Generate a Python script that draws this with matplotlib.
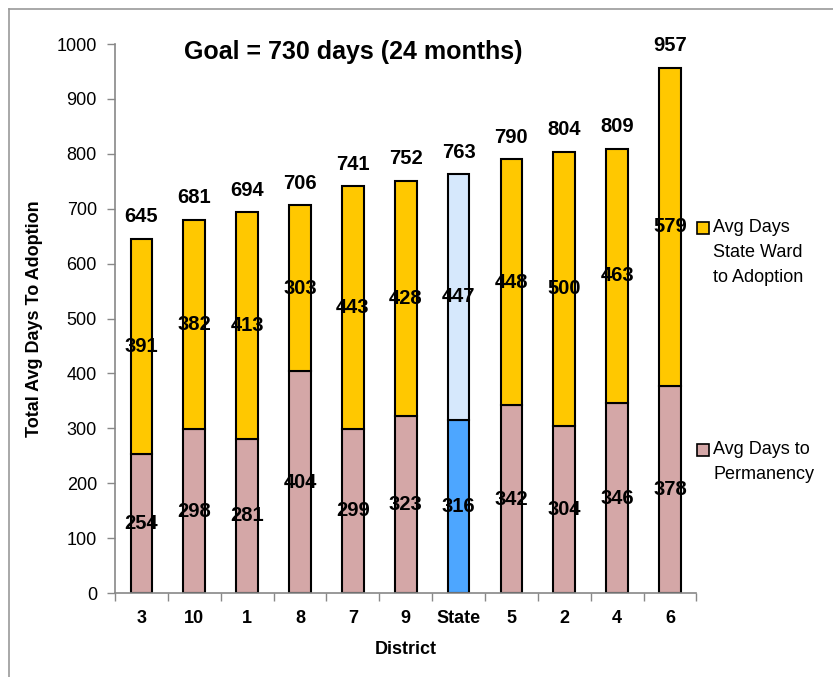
import matplotlib.pyplot as plt
from matplotlib.patches import Rectangle
from matplotlib.lines import Line2D

plt.rcParams['font.family'] = ['Liberation Sans', 'DejaVu Sans']

districts = ['3', '10', '1', '8', '7', '9', 'State', '5', '2', '4', '6']
permanency = [254, 298, 281, 404, 299, 323, 316, 342, 304, 346, 378]
ward_to_adoption = [391, 382, 413, 303, 443, 428, 447, 448, 500, 463, 579]
totals = [645, 681, 694, 706, 741, 752, 763, 790, 804, 809, 957]
legend_labels = ['Avg Days\nState Ward\nto Adoption', 'Avg Days to\nPermanency']

gold = '#FFC800'
rose = '#D4A7A7'
state_low = '#4DA6FF'
state_high = '#D6E8FC'

fig = plt.figure(figsize=(8.33, 6.77), dpi=100)
ax = fig.add_axes([0.138, 0.124, 0.698, 0.811])

x = list(range(len(districts)))
low_cols = [state_low if d == 'State' else rose for d in districts]
high_cols = [state_high if d == 'State' else gold for d in districts]

ax.bar(x, permanency, width=0.41, color=low_cols, edgecolor='black', linewidth=1.5)
ax.bar(x, ward_to_adoption, width=0.41, bottom=permanency, color=high_cols,
       edgecolor='black', linewidth=1.5)

for i in x:
    ax.text(i, permanency[i] / 2, str(permanency[i]), ha='center', va='center',
            fontsize=14.5, fontweight='bold')
    ax.text(i, permanency[i] + ward_to_adoption[i] / 2, str(ward_to_adoption[i]),
            ha='center', va='center', fontsize=14.5, fontweight='bold')
    ax.annotate(str(totals[i]), (i, totals[i]), xytext=(0, 9), textcoords='offset points',
                ha='center', va='bottom', fontsize=14.5, fontweight='bold')

ax.text(4.0, 985, 'Goal = 730 days (24 months)', ha='center', va='center',
        fontsize=18, fontweight='bold')

ax.set_xlim(-0.5, len(districts) - 0.5)
ax.set_ylim(0, 1000)
ax.set_yticks(range(0, 1001, 100))
ax.set_xticks(x)
ax.set_xticklabels(districts, fontweight='bold', fontsize=13)
ax.set_xticks([i - 0.5 for i in range(len(districts) + 1)], minor=True)
ax.tick_params(axis='x', which='major', length=0, pad=12)
ax.tick_params(axis='x', which='minor', length=6, color='#888888', width=1)
ax.tick_params(axis='y', length=6, color='#888888', width=1, labelsize=13, pad=7)
for s in ['top', 'right']:
    ax.spines[s].set_visible(False)
for s in ['left', 'bottom']:
    ax.spines[s].set_color('#888888')
    ax.spines[s].set_linewidth(1.2)

ax.set_xlabel('District', fontsize=13, fontweight='bold', labelpad=10)
ax.set_ylabel('Total Avg Days To Adoption', fontsize=13, fontweight='bold', labelpad=10)

# legend entries: swatch sits level with the first text line
for label, color, y_top in zip(legend_labels, [gold, rose], [0.6765, 0.3486]):
    fig.add_artist(Rectangle((0.8367, y_top - 0.0222), 0.0144, 0.0177,
                             transform=fig.transFigure, facecolor=color,
                             edgecolor='black', linewidth=1.2))
    fig.text(0.856, y_top, label, ha='left', va='top', fontsize=13, linespacing=1.6)

# chart area frame (top and left edges only)
fig.add_artist(Line2D([0.011, 1.0], [0.987, 0.987], transform=fig.transFigure,
                      color='#999999', linewidth=1.2))
fig.add_artist(Line2D([0.011, 0.011], [0.0, 0.987], transform=fig.transFigure,
                      color='#999999', linewidth=1.2))

fig.savefig('out.png', dpi=100)
